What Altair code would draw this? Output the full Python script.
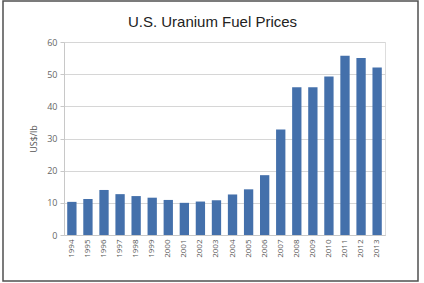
import altair as alt
import pandas as pd

years = [str(y) for y in range(1994, 2014)]
prices = [10.3, 11.2, 14.0, 12.7, 12.1, 11.6, 10.9, 10.0, 10.4, 10.8,
          12.6, 14.2, 18.6, 32.8, 45.9, 45.9, 49.3, 55.7, 55.0, 52.1]

df = pd.DataFrame({"Year": years, "Price": prices})

bars = alt.Chart(df).mark_bar(color="#4470ab", clip=False).encode(
    x=alt.X("Year:N", sort=None, title=None,
            scale=alt.Scale(paddingInner=0.42, paddingOuter=0.2),
            axis=alt.Axis(labelAngle=-90, labelFontSize=8, labelColor="#555555",
                          labelFont="Open Sans", domainColor="#c8c8c8",
                          ticks=False, labelPadding=4)),
    y=alt.Y("Price:Q", title="US$/lb",
            scale=alt.Scale(domain=[0, 60]),
            axis=alt.Axis(values=[0, 10, 20, 30, 40, 50, 60], labelFontSize=9,
                          labelColor="#666666", labelFont="Open Sans",
                          titleFont="Open Sans", titleFontSize=9,
                          titleFontWeight="normal", titleColor="#555555",
                          titlePadding=8, gridColor="#d6d6d6",
                          domainColor="#c8c8c8", tickColor="#c8c8c8",
                          tickSize=4, labelPadding=3)),
)

# outer frame around the whole figure
frame = alt.Chart(pd.DataFrame({"f": [0]})).mark_rect(
    filled=False, stroke="#505050", strokeWidth=1.5, clip=False
).encode(
    x=alt.value(-61), x2=alt.value(354), y=alt.value(-41), y2=alt.value(239)
)

# the frame widens the group bounds, so the title is shifted back down with dy
chart = alt.layer(bars, frame).properties(
    width=321, height=193,
    autosize=alt.AutoSizeParams(type="none"),
    padding={"left": 64, "top": 42, "right": 39, "bottom": 48},
    title=alt.Title("U.S. Uranium Fuel Prices", font="Liberation Sans",
                    fontSize=15, fontWeight="normal", color="#222222",
                    anchor="middle", baseline="alphabetic", offset=12,
                    dy=54, dx=-12),
).configure_view(stroke=None).configure(background="white")

chart.save("out.html", embed_options={"renderer": "svg", "actions": False})
